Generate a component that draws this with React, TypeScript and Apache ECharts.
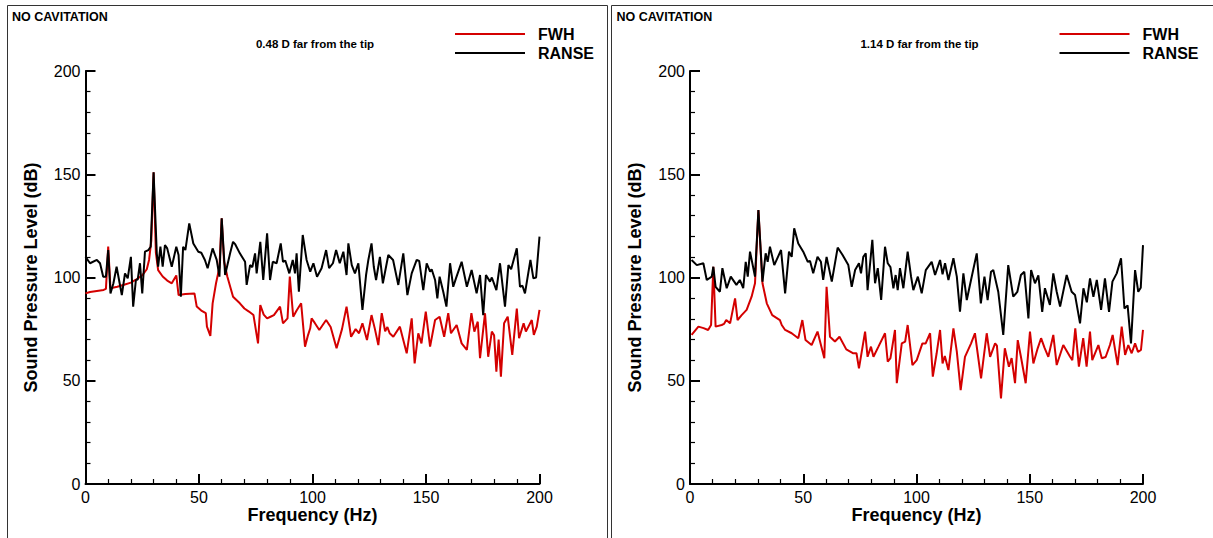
import React, { useEffect, useRef } from "react";
import * as echarts from "echarts";

const panelTitle = "NO CAVITATION";
const subtitles = ["0.48 D far from the tip", "1.14 D far from the tip"];
const seriesNames = ["FWH", "RANSE"];
const xTicks = [0, 50, 100, 150, 200];
const yTicks = [0, 50, 100, 150, 200];

// Left panel (0.48 D) — FWH
const leftFWH: [number, number][] = [
  [0, 92.3], [2, 93], [5, 93.5], [8, 94], [9, 94.5], [10, 115], [11, 94.8], [14, 95.5], [17, 96.5],
  [20, 97.5], [22, 98.8], [25, 101], [27, 104], [28, 108.5], [29, 118], [30, 151], [31, 112],
  [32, 103.6], [34, 100.5], [36, 98.5], [38, 97.2], [40, 101], [41, 91.5], [44, 92], [48, 92.3],
  [49, 85.9], [51, 84], [53, 82.7], [53.5, 76.2], [55, 71.7], [56, 87.5], [57.5, 97.2], [59, 105],
  [60, 128.7], [61, 108], [62.5, 100.4], [65, 90.7], [68, 87.5], [70, 85], [72, 83.5], [74, 81.8],
  [76, 68.1], [77, 86.7], [78.5, 82], [80, 80.2], [81.5, 81], [83, 81.8], [85.7, 85.9], [87, 77.8],
  [89, 80.2], [90, 100.4], [91.5, 81], [93, 84], [95, 87.5], [96.7, 66.5], [98, 72], [99, 75.4],
  [99.6, 80.2], [101, 78], [103, 74.6], [106, 79.4], [108, 76], [110.6, 65.7], [113, 75], [115, 85.9],
  [117, 71.3], [119, 75], [120.5, 73], [122, 77.8], [124, 69.7], [126, 81.8], [127.5, 75], [129, 67.3],
  [130.5, 82.7], [132, 74], [133, 76], [134, 73], [135.6, 71.3], [138.5, 76.2], [141.5, 63.3],
  [143.7, 80.2], [145, 58.4], [146.6, 73], [148, 68.1], [149.9, 83.5], [151.8, 66.5], [154, 79.4],
  [156, 81], [158, 71.3], [159.8, 82.7], [161, 73], [163.5, 77], [165.7, 68.1], [168, 64.9],
  [170, 82.7], [171.3, 73.8], [172.8, 78.6], [173.8, 60.9], [176, 82.7], [177.4, 61.6], [179, 73.8],
  [180, 72], [181, 54.4], [182, 70], [183, 52], [184.4, 77.8], [186, 81], [188, 62.5], [190, 85],
  [191, 70.6], [193, 77.8], [194, 73.8], [196.6, 79.4], [197.5, 72.2], [198.8, 76.2], [200, 84.3],
];

// Left panel (0.48 D) — RANSE
const leftRANSE: [number, number][] = [
  [0, 110], [2, 106.9], [5, 108.5], [6.4, 106.9], [7.8, 100.4], [9, 100.4], [10, 113.3], [11, 92.3],
  [12.3, 97.2], [13.7, 105.2], [16, 91.5], [17.4, 102], [18.6, 99.6], [20, 110], [21, 85.9],
  [22.2, 98.8], [23, 99], [24, 106.9], [25, 92.3], [26.2, 112.5], [27.7, 113.3], [28.7, 114.9],
  [30, 151], [31.4, 111.7], [32, 105.2], [33, 114.9], [34, 105.2], [35, 115.7], [36, 114.1],
  [38, 105.2], [40, 114.9], [41, 110.9], [42, 90.7], [43, 114.9], [44, 113.3], [45.7, 126.2],
  [47.5, 116.5], [49.7, 112.5], [51, 112], [52.6, 108.5], [53.8, 104.5], [56, 114.1], [57.8, 108.5],
  [59, 100.4], [60, 128.7], [61.5, 101.2], [63.7, 111.7], [65, 117.3], [66, 116], [68, 111.7],
  [70.3, 107.6], [71, 96.4], [72.5, 106], [73.5, 105], [74.7, 111.7], [75.4, 102], [77, 117.3],
  [78.3, 98.8], [80, 121.4], [81.3, 98.8], [82.5, 107.6], [84.2, 106.9], [86, 116.5], [87, 107.6],
  [88, 108.2], [89.8, 102], [91.3, 108.5], [92.3, 102], [93, 111.7], [94, 93.1], [95.7, 120.6],
  [97.4, 108.5], [99, 102.8], [100.4, 106.9], [102, 100.4], [104, 104.5], [106, 113.3], [107.3, 104.5],
  [109, 106.9], [110.4, 113.3], [112, 106.9], [113.6, 112.5], [115, 101.2], [115.8, 116.5],
  [117.3, 106], [118.7, 102], [120.2, 106.9], [122, 84.3], [123.6, 101.2], [124.6, 108.5],
  [126, 116.5], [127, 105.2], [128, 98.8], [129.7, 110], [131, 97.2], [133.4, 110.9], [135.5, 108.5],
  [137.8, 96.4], [140, 111.7], [141.8, 91.5], [143.7, 102], [145.9, 108.5], [147, 108], [148.8, 93.9],
  [150.3, 106.9], [151.8, 102.8], [152.5, 104], [154, 98.8], [155, 89.9], [156, 100.4], [157.6, 93.1],
  [159, 85.9], [160.6, 106.9], [162, 95.5], [163.2, 99.6], [165.7, 107.6], [168, 95.5], [170.1, 103.6],
  [172.3, 92.3], [173.8, 101.2], [175.2, 81.8], [176.4, 101.2], [178.2, 98], [179, 100], [181, 93.9],
  [182.6, 106.9], [184.8, 85.9], [186.3, 106], [187.5, 104], [190, 114.1], [191.4, 95.5], [192.5, 96],
  [193.6, 92.3], [196, 108.5], [197.3, 99.6], [198.5, 100], [200, 119.8],
];

// Right panel (1.14 D) — FWH
const rightFWH: [number, number][] = [
  [0.7, 72.2], [3.7, 76.2], [6, 75.5], [8, 74.6], [9.3, 77], [10.3, 105.2], [11.3, 76.2], [14, 77],
  [15, 77.5], [16, 79.4], [17.7, 77.8], [19.9, 89.9], [21, 79.4], [22.8, 81.8], [25, 84.3],
  [27.2, 90.7], [28.7, 97.2], [30.2, 132.7], [32, 97.2], [33.9, 87.5], [36.3, 81.8], [39.7, 79.4],
  [40.5, 77], [42, 74.6], [44.9, 73], [47.8, 70.6], [49.6, 79.4], [51, 69.7], [53.7, 67.3],
  [56.3, 73.8], [59.3, 60.9], [60.3, 95.5], [61.8, 71.3], [64, 69], [66, 71.3], [69, 65.2],
  [72.1, 63.3], [73.5, 63.3], [74.6, 56], [77.3, 73.8], [78.4, 61.6], [79.9, 66.5], [81, 61.6],
  [83.2, 66.5], [86.1, 73], [87.3, 59.2], [88.5, 61], [90.5, 74.6], [91.3, 48.8], [93.5, 68.1],
  [95, 69], [96.1, 77], [98.2, 57.6], [100.1, 60], [102.6, 68.1], [104, 68], [106, 73], [107.2, 52],
  [108.9, 63.3], [110.4, 74.6], [111.5, 58.4], [112.5, 62], [114.1, 55.2], [116.3, 75.4],
  [117.8, 64.1], [119.5, 45.5], [121.4, 61.6], [124.1, 68.1], [125.8, 73], [128.5, 51.2], [131, 73],
  [132.5, 61.6], [134.7, 68.1], [135.5, 67], [137.3, 41.5], [139, 65.7], [140.8, 56.8], [142, 61],
  [143.5, 48.8], [144.7, 69.7], [146.1, 61.6], [148.2, 48.8], [150.1, 73.8], [151.6, 58.4],
  [153.5, 65.7], [155, 70.6], [156.5, 66], [158.2, 61.6], [160.4, 72.2], [161.9, 57.6], [164.8, 67.3],
  [167.8, 61.6], [168.8, 60], [170.1, 75.4], [171.7, 56.8], [173.6, 70.6], [175.1, 56.8],
  [176.6, 73.8], [177.6, 60], [180.3, 67.3], [181.8, 60.9], [183.5, 61.5], [185.4, 67.3],
  [186.6, 72.2], [188.8, 57.6], [190.6, 76.2], [192.1, 62.5], [193.5, 67.3], [195, 63.3],
  [196.5, 68.1], [197.8, 64], [199.1, 64.9], [200, 74.6],
];

// Right panel (1.14 D) — RANSE
const rightRANSE: [number, number][] = [
  [0.7, 108.5], [3, 106], [5.9, 106.9], [7.4, 98.8], [9.6, 100.4], [10.3, 105.2], [11.3, 95.5],
  [13.2, 93.1], [14.3, 104.5], [16.2, 94.8], [18, 100.4], [20.5, 96.4], [22, 98.8], [23.5, 94.8],
  [24.6, 107.6], [25.5, 100.4], [26.5, 112.5], [28.7, 100.4], [30.2, 132.7], [32, 98], [33.4, 111.7],
  [34.3, 107.6], [35.3, 114.9], [37.2, 106], [40.2, 113.3], [42, 92.3], [43.7, 112.5], [44.9, 110],
  [46, 123.8], [47.8, 116.5], [50, 112.5], [52, 107.6], [53, 108], [54.4, 102], [56.3, 110],
  [57.8, 107.6], [58.8, 98.8], [60.3, 110], [62.6, 98], [65.2, 114.5], [67.3, 111], [69.9, 106],
  [71.4, 95.5], [72.9, 103.6], [74.6, 106.9], [75.5, 102], [76.5, 110], [77.6, 111.7], [78.4, 93.9],
  [80.5, 118.2], [81.7, 97.2], [82.9, 104.5], [84.4, 89.1], [86.1, 114.9], [87.3, 106.9], [88.5, 105],
  [89.8, 94.8], [90.8, 101.2], [91.7, 93.9], [92.7, 104.5], [94.2, 94.8], [96.1, 112.5], [97.6, 100.4],
  [98.6, 93.9], [100.6, 100.4], [102.3, 92.3], [104.1, 103.6], [106.7, 107.6], [108.2, 101.2],
  [110.4, 108.5], [111.5, 101.5], [112.6, 106.9], [114.1, 98.8], [116.3, 109.3], [117.8, 100.4],
  [119.2, 83.4], [120.7, 102], [122.2, 89.1], [123.6, 96.4], [126.6, 111.7], [128.4, 87.5],
  [130, 100.4], [131.4, 89.1], [132.9, 102.8], [133.9, 103.6], [136.1, 93.1], [138.3, 72.2],
  [140.5, 106], [142.7, 90.7], [144.5, 93], [146.1, 101.2], [147.6, 102.8], [149.4, 80.2],
  [150.6, 103.6], [152.3, 97.2], [153.8, 101], [155.5, 83.4], [156.7, 94.8], [158.9, 86.7],
  [160.4, 102], [161.9, 93.1], [163.4, 85.9], [166.3, 101.2], [168.5, 93.1], [170, 91.5],
  [172.2, 77.8], [173.7, 94.8], [175.2, 88], [176.6, 99.6], [178.1, 90.7], [179.6, 98.8],
  [181.5, 84.3], [183.2, 99.6], [185, 83.4], [186.5, 98], [188.4, 102], [190.3, 109.3], [191.8, 85],
  [193.2, 86.5], [194.7, 68.1], [196.5, 103.6], [197.9, 93.1], [199, 95], [200, 115.7],
];

const panels = [
  { fwh: leftFWH, ranse: leftRANSE },
  { fwh: rightFWH, ranse: rightRANSE },
];

const RED = "#d40000";
const BLACK = "#000000";
const FONT = "'Liberation Sans', Arial, Helvetica, sans-serif";

export default function App() {
  const ref = useRef<HTMLDivElement>(null);
  useEffect(() => {
    if (!ref.current) return;
    const chart = echarts.init(ref.current, undefined, { renderer: "svg" });
    const gridLefts = [85.5, 690];
    const gridW = [454, 453];
    const top = 71;
    const height = 413;

    const axisCommon = {
      type: "value" as const,
      min: xTicks[0],
      max: xTicks[xTicks.length - 1],
      interval: xTicks[1] - xTicks[0],
      axisLine: { show: true, onZero: false, lineStyle: { color: "#000", width: 2 } },
      axisTick: { show: true, inside: true, length: 10, lineStyle: { color: "#000", width: 2 } },
      minorTick: { show: true, splitNumber: 5, length: 5, lineStyle: { color: "#000", width: 1.2 } },
      splitLine: { show: false },
      axisLabel: { color: "#000", fontSize: 16, lineHeight: 16, fontFamily: FONT, margin: 5 },
      nameMoveOverlap: false,
      nameTextStyle: { color: "#000", fontSize: 18, lineHeight: 18, fontWeight: "bold" as const, fontFamily: FONT },
    };

    const graphic: any[] = [];
    const frameX = [7.5, 611.5];
    const frameW = [600, 620];
    const offsets = [0, 604.5];
    frameX.forEach((fx, i) => {
      graphic.push({
        type: "rect",
        shape: { x: fx, y: 5.5, width: frameW[i], height: 560 },
        style: { fill: "none", stroke: "#333", lineWidth: 1 },
        silent: true,
      });
      const o = offsets[i];
      graphic.push({
        type: "text",
        x: 12 + o,
        y: 17,
        style: { text: panelTitle, font: `bold 12.5px ${FONT}`, fill: "#000", textVerticalAlign: "middle" },
      });
      graphic.push({
        type: "text",
        x: 315 + o,
        y: 44,
        style: { text: subtitles[i], font: `bold 11.5px ${FONT}`, fill: "#000", textAlign: "center", textVerticalAlign: "middle" },
      });
      [RED, BLACK].forEach((c, k) => {
        const ly = 34 + k * 19;
        graphic.push({
          type: "line",
          shape: { x1: 455 + o, y1: ly, x2: 525 + o, y2: ly },
          style: { stroke: c, lineWidth: 2 },
        });
        graphic.push({
          type: "text",
          x: 538 + o,
          y: ly,
          style: { text: seriesNames[k], font: `bold 16px ${FONT}`, fill: "#000", textVerticalAlign: "middle" },
        });
      });
    });

    chart.setOption({
      animation: false,
      backgroundColor: "#fff",
      grid: gridLefts.map((l, i) => ({ left: l, top, width: gridW[i], height, containLabel: false })),
      xAxis: [0, 1].map((i) => ({
        ...axisCommon,
        gridIndex: i,
        position: "bottom",
        name: "Frequency (Hz)",
        nameLocation: "middle",
        nameGap: 22,
      })),
      yAxis: [0, 1].map((i) => ({
        ...axisCommon,
        min: yTicks[0],
        max: yTicks[yTicks.length - 1],
        interval: yTicks[1] - yTicks[0],
        gridIndex: i,
        position: "left",
        name: "Sound Pressure Level (dB)",
        nameLocation: "middle",
        nameGap: 46,
      })),
      series: panels.flatMap((p, i) => [
        {
          name: seriesNames[0],
          type: "line",
          xAxisIndex: i,
          yAxisIndex: i,
          data: p.fwh,
          showSymbol: false,
          symbol: "none",
          lineStyle: { color: RED, width: 2 },
          itemStyle: { color: RED },
          z: 2,
        },
        {
          name: seriesNames[1],
          type: "line",
          xAxisIndex: i,
          yAxisIndex: i,
          data: p.ranse,
          showSymbol: false,
          symbol: "none",
          lineStyle: { color: BLACK, width: 2 },
          itemStyle: { color: BLACK },
          z: 3,
        },
      ]),
      graphic,
    });
    return () => chart.dispose();
  }, []);
  return (
    <div
      ref={ref}
      style={{ position: "absolute", left: 0, top: 0, width: 1213, height: 538, background: "#fff" }}
    />
  );
}
